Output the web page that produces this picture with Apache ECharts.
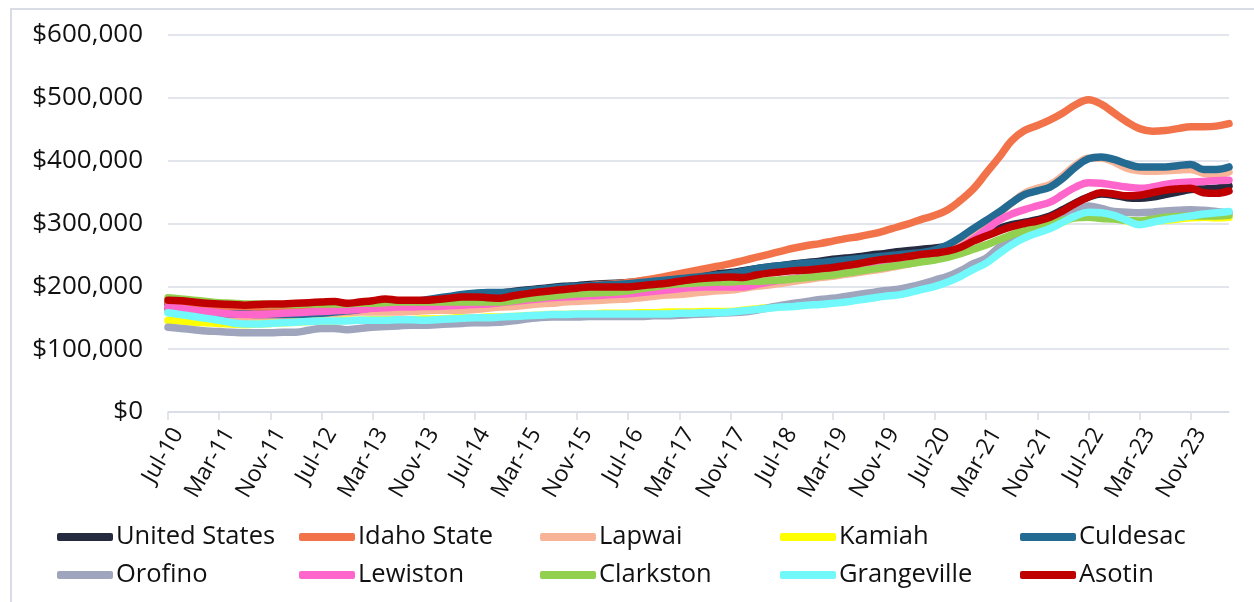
<!DOCTYPE html>
<html>
<head>
<meta charset="utf-8">
<script src="https://cdn.jsdelivr.net/npm/echarts@6/dist/echarts.min.js"></script>
<style>
  html, body { margin: 0; padding: 0; background: #fff; }
  #chart { width: 1254px; height: 602px; }
</style>
</head>
<body>
<div id="chart"></div>
<script>
// Bimonthly samples, Jul-10 through May-24 (values in thousands of dollars)
const MONTHS = ['Jan','Feb','Mar','Apr','May','Jun','Jul','Aug','Sep','Oct','Nov','Dec'];
const categories = [];
for (let i = 0; i < 84; i++) {
  const m = 6 + 2 * i;
  const yr = 10 + Math.floor(m / 12);
  categories.push(MONTHS[m % 12] + '-' + String(yr).padStart(2, '0'));
}

const seriesNames = ['United States','Idaho State','Lapwai','Kamiah','Culdesac','Orofino','Lewiston','Clarkston','Grangeville','Asotin'];
const seriesColors = ['#262A40','#F2734A','#F8B497','#FFFF00','#236B92','#9EA5BD','#FF66CC','#92D050','#71F8FB','#C00000'];

const unitedStates = [172,171,169,167,165,164,163,163,164,165,166,167,168,169,170,171,172,173,174,175,176,178,180,182,185,187,189,192,194,196,198,200,201,203,204,205,206,208,210,212,214,216,218,220,222,225,228,231,233,236,238,240,243,245,247,250,252,255,257,259,261,264,268,276,284,292,298,302,306,312,322,333,342,347,345,341,340,342,346,350,354,355,356,360];
const idahoState = [175,174,172,170,168,167,166,165,165,165,166,167,168,169,170,171,172,173,174,175,176,177,178,179,180,181,183,185,187,189,192,195,198,201,203,204,206,209,212,216,220,224,228,232,236,241,246,251,256,261,265,268,272,276,279,283,288,294,300,307,313,322,337,355,380,405,432,448,456,465,476,489,497,490,476,462,451,447,448,451,454,454,455,459];
const lapwai = [160,158,156,153,151,150,150,151,152,153,154,155,156,157,158,159,159,159,159,160,161,162,162,162,163,165,167,168,170,172,173,175,176,177,178,179,180,182,184,186,187,189,191,193,194,197,200,202,205,208,211,214,216,219,222,225,228,232,236,240,246,255,268,283,298,315,333,348,356,362,376,393,404,404,398,388,384,383,384,385,386,380,378,382];
const kamiah = [146,145,143,142,141,140,139,140,141,142,143,144,145,145,146,146,147,147,147,147,148,148,149,150,150,151,151,152,153,154,155,155,156,156,157,157,157,158,158,159,159,159,160,160,160,162,164,166,168,169,171,172,174,176,179,182,185,188,192,197,203,210,219,230,240,255,268,278,286,293,302,310,315,314,310,304,300,303,305,307,309,310,309,310];
const culdesac = [165,163,161,159,157,156,156,155,155,155,155,156,157,159,161,163,166,169,172,175,178,181,184,187,189,190,190,191,193,195,197,199,200,201,202,203,204,206,208,210,212,214,216,218,220,224,228,231,233,235,237,238,240,242,244,246,248,250,252,254,258,266,278,292,305,318,333,346,352,358,372,390,403,406,402,395,390,390,390,392,394,386,386,390];
const orofino = [135,133,131,129,128,127,126,126,126,127,127,130,133,133,131,133,135,136,137,138,138,139,140,141,142,142,143,145,148,150,151,151,151,152,152,152,152,152,153,153,154,155,156,157,158,159,162,166,170,173,176,179,181,184,187,190,193,195,199,204,210,216,225,236,245,262,277,288,298,306,316,324,328,324,319,318,317,318,320,321,322,321,319,317];
const lewiston = [167,165,162,160,158,156,155,155,156,157,158,159,160,161,162,163,165,166,167,167,168,168,169,170,171,172,174,176,178,180,182,183,184,185,186,187,188,190,192,194,196,198,199,199,199,199,203,207,210,213,216,219,222,225,228,231,234,237,241,245,249,254,262,275,290,305,315,322,328,334,346,358,365,364,361,358,356,358,362,365,366,367,368,369];
const clarkston = [182,180,178,176,174,173,172,172,171,171,171,172,172,172,172,173,173,174,175,175,175,175,175,175,175,175,175,177,180,182,184,186,188,189,190,191,193,196,199,202,204,205,206,207,207,208,208,209,210,212,214,216,218,221,224,227,230,233,236,239,242,246,252,259,266,274,282,289,294,299,305,309,310,308,307,305,304,307,310,311,312,312,312,313];
const grangeville = [158,155,152,149,146,142,140,140,141,142,143,144,145,145,145,146,146,146,147,147,146,147,148,149,150,150,151,152,153,154,155,155,156,156,156,156,156,156,156,156,157,157,158,158,159,161,163,165,167,168,170,171,173,175,178,181,184,186,190,195,200,207,216,227,237,252,266,277,285,292,302,312,318,317,313,305,298,302,306,309,312,315,317,319];
const asotin = [178,177,175,173,172,171,170,171,172,172,173,174,175,176,173,175,177,180,178,178,178,179,181,183,183,182,181,185,188,191,193,195,197,199,199,199,199,201,203,205,208,211,213,214,215,214,218,221,223,225,226,228,230,233,236,240,243,245,248,251,253,256,262,272,280,288,295,300,304,310,320,332,342,349,347,344,345,349,353,355,356,349,348,352];

const seriesValues = [unitedStates, idahoState, lapwai, kamiah, culdesac, orofino, lewiston, clarkston, grangeville, asotin];

const FONT = '"Open Sans", sans-serif';
const GRID_COLOR = '#D9DCE6';

const chart = echarts.init(document.getElementById('chart'), null, { renderer: 'canvas' });

// legend: five fixed columns, two rows
const legendCols = [57, 299, 540, 780, 1020];
const legendRows = [521, 559];
const legends = seriesNames.map((name, k) => ({
  data: [name],
  left: legendCols[k % 5],
  top: legendRows[Math.floor(k / 5)],
  padding: 0,
  icon: 'roundRect',
  itemWidth: 56,
  itemHeight: 8,
  selectedMode: false,
  textStyle: { fontFamily: FONT, fontSize: 25.5, color: '#111', padding: [0, 0, 0, -2], lineHeight: 32 }
}));

chart.setOption({
  animation: false,
  backgroundColor: '#fff',
  color: seriesColors,
  graphic: [{
    type: 'rect',
    shape: { x: 11, y: 9, width: 1300, height: 700 },
    style: { fill: 'none', stroke: '#D9DBE5', lineWidth: 2 },
    silent: true,
    z: -1
  }],
  grid: { left: 168, right: 25, top: 35, bottom: 190, containLabel: false },
  legend: legends,
  xAxis: {
    type: 'category',
    data: categories,
    boundaryGap: false,
    axisLine: { lineStyle: { color: GRID_COLOR, width: 1.5 } },
    axisTick: { interval: 3, length: 8, lineStyle: { color: GRID_COLOR, width: 1.5 } },
    axisLabel: {
      interval: 3,
      rotate: 60,
      margin: 12,
      verticalAlign: 'top',
      fontFamily: FONT,
      fontSize: 23,
      color: '#111'
    },
    splitLine: { show: false }
  },
  yAxis: {
    type: 'value',
    min: 0,
    max: 600,
    interval: 100,
    axisLine: { show: false },
    axisTick: { show: false },
    axisLabel: {
      margin: 25,
      fontFamily: FONT,
      fontSize: 26,
      color: '#111',
      formatter: v => '$' + (v * 1000).toLocaleString('en-US')
    },
    splitLine: { lineStyle: { color: GRID_COLOR, width: 1.5 } }
  },
  series: seriesNames.map((name, k) => ({
    name: name,
    type: 'line',
    data: seriesValues[k],
    smooth: 0.4,
    showSymbol: false,
    symbol: 'none',
    lineStyle: { width: 7.5, color: seriesColors[k], cap: 'round', join: 'round' },
    itemStyle: { color: seriesColors[k] },
    emphasis: { disabled: true },
    z: 2 + k
  }))
});
</script>
</body>
</html>
